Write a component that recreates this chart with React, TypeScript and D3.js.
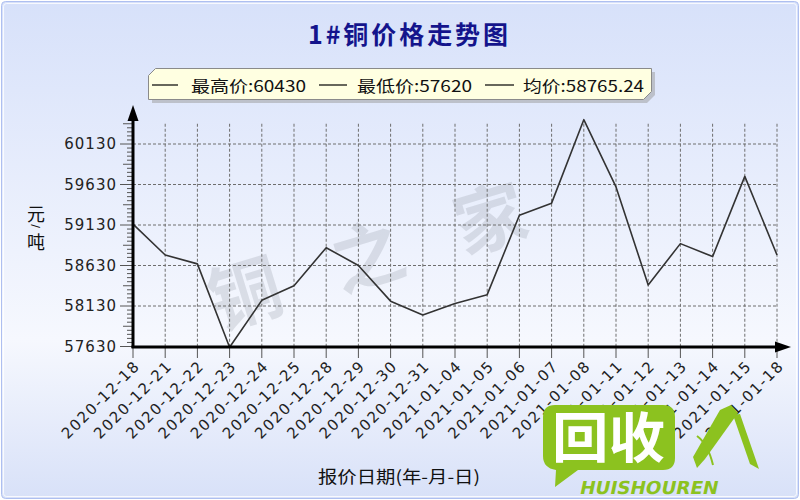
import React from 'react';
import * as d3 from 'd3';

// data
const dates = [
  '2020-12-18', '2020-12-21', '2020-12-22', '2020-12-23', '2020-12-24', '2020-12-25',
  '2020-12-28', '2020-12-29', '2020-12-30', '2020-12-31', '2021-01-04', '2021-01-05',
  '2021-01-06', '2021-01-07', '2021-01-08', '2021-01-11', '2021-01-12', '2021-01-13',
  '2021-01-14', '2021-01-15', '2021-01-18',
];
const prices = [
  59140, 58760, 58650, 57620, 58200, 58380,
  58850, 58630, 58190, 58020, 58160, 58270,
  59250, 59400, 60430, 59600, 58390, 58900,
  58740, 59730, 58760,
];
const yTicks = [57630, 58130, 58630, 59130, 59630, 60130];
const legendItems = ['最高价:60430', '最低价:57620', '均价:58765.24'];

const W = 800;
const H = 500;

export default function App() {
  const x = d3.scalePoint<string>().domain(dates).range([133, 777]);
  const y = d3.scaleLinear().domain([57630, 60130]).range([346.5, 144]);
  const yTop = y(60380);
  const minor = d3.range(57630, 60381, 50);

  const line = d3.line<number>()
    .x((_, i) => x(dates[i])!)
    .y(d => y(d));

  const axisFont = '"DejaVu Sans", Verdana, sans-serif';
  const cjkFont = '"Noto Sans CJK SC", sans-serif';

  // legend layout: [line start, line end, text start, text end]
  const legendPos = [
    [152, 178, 191, 306],
    [319, 347, 357, 472],
    [485, 514, 523, 644],
  ];

  return (
    <div style={{ position: 'absolute', left: 0, top: 0 }}>
      <svg width={W} height={H} style={{ display: 'block' }}>
        <defs>
          <linearGradient id="bg" x1="0" y1="0" x2="0" y2="1">
            <stop offset="0%" stopColor="#d7e1fa" />
            <stop offset="68%" stopColor="#f6f8fe" />
            <stop offset="100%" stopColor="#d8e1f8" />
          </linearGradient>
        </defs>
        <rect x={0} y={0} width={W} height={H} fill="#fff" />
        <rect x={1.5} y={1.5} width={W - 3} height={H - 3} rx={4} fill="url(#bg)" stroke="#aebff0" />
        <rect x={3.5} y={3.5} width={W - 7} height={H - 7} rx={3} fill="none" stroke="#ffffff" opacity={0.8} />

        {/* title */}
        <text x={408} y={44} textAnchor="middle" fontFamily={cjkFont} fontWeight="bold"
          fontSize={25} fill="#14148c" textLength={200} lengthAdjust="spacing">
          1#铜价格走势图
        </text>

        {/* legend box */}
        <path d="M153,70 L653,70 L653,93 L645,101 L150,101 L150,74 Z" fill="#999" opacity={0.5}
          transform="translate(2,2)" />
        <path d="M155.5,68.5 L651.5,68.5 L651.5,91.5 L643.5,99.5 L148.5,99.5 L148.5,75.5 Z"
          fill="#ffffe1" stroke="#8a8a8a" />
        {legendItems.map((t, i) => {
          const [l0, l1, t0, t1] = legendPos[i];
          return (
            <g key={t}>
              <line x1={l0} x2={l1} y1={85} y2={85} stroke="#000" strokeWidth={1.2} />
              <text x={t0} y={92} fontFamily={cjkFont} fontSize={16} fill="#111"
                textLength={t1 - t0} lengthAdjust="spacingAndGlyphs">{t}</text>
            </g>
          );
        })}

        {/* watermark */}
        <g transform="translate(393,243) rotate(-17)">
          <text x={0} y={0} textAnchor="middle" dominantBaseline="central" fontFamily={cjkFont}
            fontWeight="bold" fontSize={72} fill="#9aa0ac" opacity={0.28} letterSpacing={56}>
            铜之家
          </text>
        </g>

        {/* grid */}
        {yTicks.map(v => (
          <line key={'h' + v} x1={133} x2={777} y1={y(v)} y2={y(v)} stroke="#6e6e6e"
            strokeDasharray="3,2" />
        ))}
        {dates.slice(1).map(d => (
          <line key={'v' + d} x1={x(d)} x2={x(d)} y1={yTop} y2={346.5} stroke="#6e6e6e"
            strokeDasharray="3,2" />
        ))}

        {/* y ticks */}
        {minor.map(v => {
          const k = (v - 57630) % 500;
          const len = k === 0 ? 13 : k === 250 ? 10 : 6;
          return <line key={'m' + v} x1={133 - len} x2={133} y1={y(v)} y2={y(v)} stroke="#555" />;
        })}
        {yTicks.map(v => (
          <text key={'yl' + v} x={117} y={y(v)} dy="0.36em" textAnchor="end" fontFamily={axisFont}
            fontSize={15} letterSpacing={1} fill="#222">{v}</text>
        ))}

        {/* x ticks and labels */}
        {dates.map(d => (
          <g key={'x' + d}>
            <line x1={x(d)} x2={x(d)} y1={346.5} y2={358} stroke="#555" />
            <text transform={`translate(${x(d)! + 4},363) rotate(-45)`} dy="0.36em" textAnchor="end"
              fontFamily={axisFont} fontSize={15} letterSpacing={1.6} fill="#222">{d}</text>
          </g>
        ))}

        {/* price line */}
        <path d={line(prices)!} fill="none" stroke="#333" strokeWidth={1.6} strokeLinejoin="round" />

        {/* axes */}
        <line x1={133} x2={133} y1={348} y2={118} stroke="#000" strokeWidth={3} />
        <path d="M133,105 L127.5,121 L138.5,121 Z" fill="#000" />
        <line x1={131.5} x2={778} y1={347} y2={347} stroke="#000" strokeWidth={3} />
        <path d="M791,347 L775,341.5 L775,352.5 Z" fill="#000" />

        {/* y title */}
        <text x={36} y={215} dy="0.36em" textAnchor="middle" fontFamily={cjkFont} fontSize={18} fill="#111">元</text>
        <text transform="translate(36,226) rotate(90)" dy="0.36em" textAnchor="middle" fontFamily={axisFont}
          fontSize={11} fill="#111">/</text>
        <text x={36} y={243} dy="0.36em" textAnchor="middle" fontFamily={cjkFont} fontSize={18} fill="#111">吨</text>

        {/* x title */}
        <text x={318} y={483} fontFamily={cjkFont} fontSize={17} fill="#111" textLength={162}
          lengthAdjust="spacingAndGlyphs">报价日期(年-月-日)</text>

        {/* logo overlay */}
        <path d="M555,405 L663,405 Q675,405 675,417 L675,458 Q675,470 663,470 L578,470 L555,487 L556,470 Q543,468 543,456 L543,417 Q543,405 555,405 Z"
          fill="#8cc21f" />
        <text x={552} y={458} fontFamily={cjkFont} fontWeight="bold" fontSize={54} fill="#fff"
          textLength={113} lengthAdjust="spacingAndGlyphs">回收</text>
        <path d="M720,410 L731,405 L738,413 L705,459 L697,468 L693,457 Z" fill="#8cc21f" />
        <path d="M733,415 L740,414 L759,469 L750,464 Z" fill="#8cc21f" />
        <path d="M697,436 Q708,444 713,465" fill="none" stroke="#8cc21f" strokeWidth={2} />
        <text transform="translate(579,494) skewX(-12)" fontFamily={axisFont} fontWeight="bold" fontSize={18}
          fill="#8cc21f" textLength={138} lengthAdjust="spacingAndGlyphs">HUISHOUREN</text>
      </svg>
    </div>
  );
}
